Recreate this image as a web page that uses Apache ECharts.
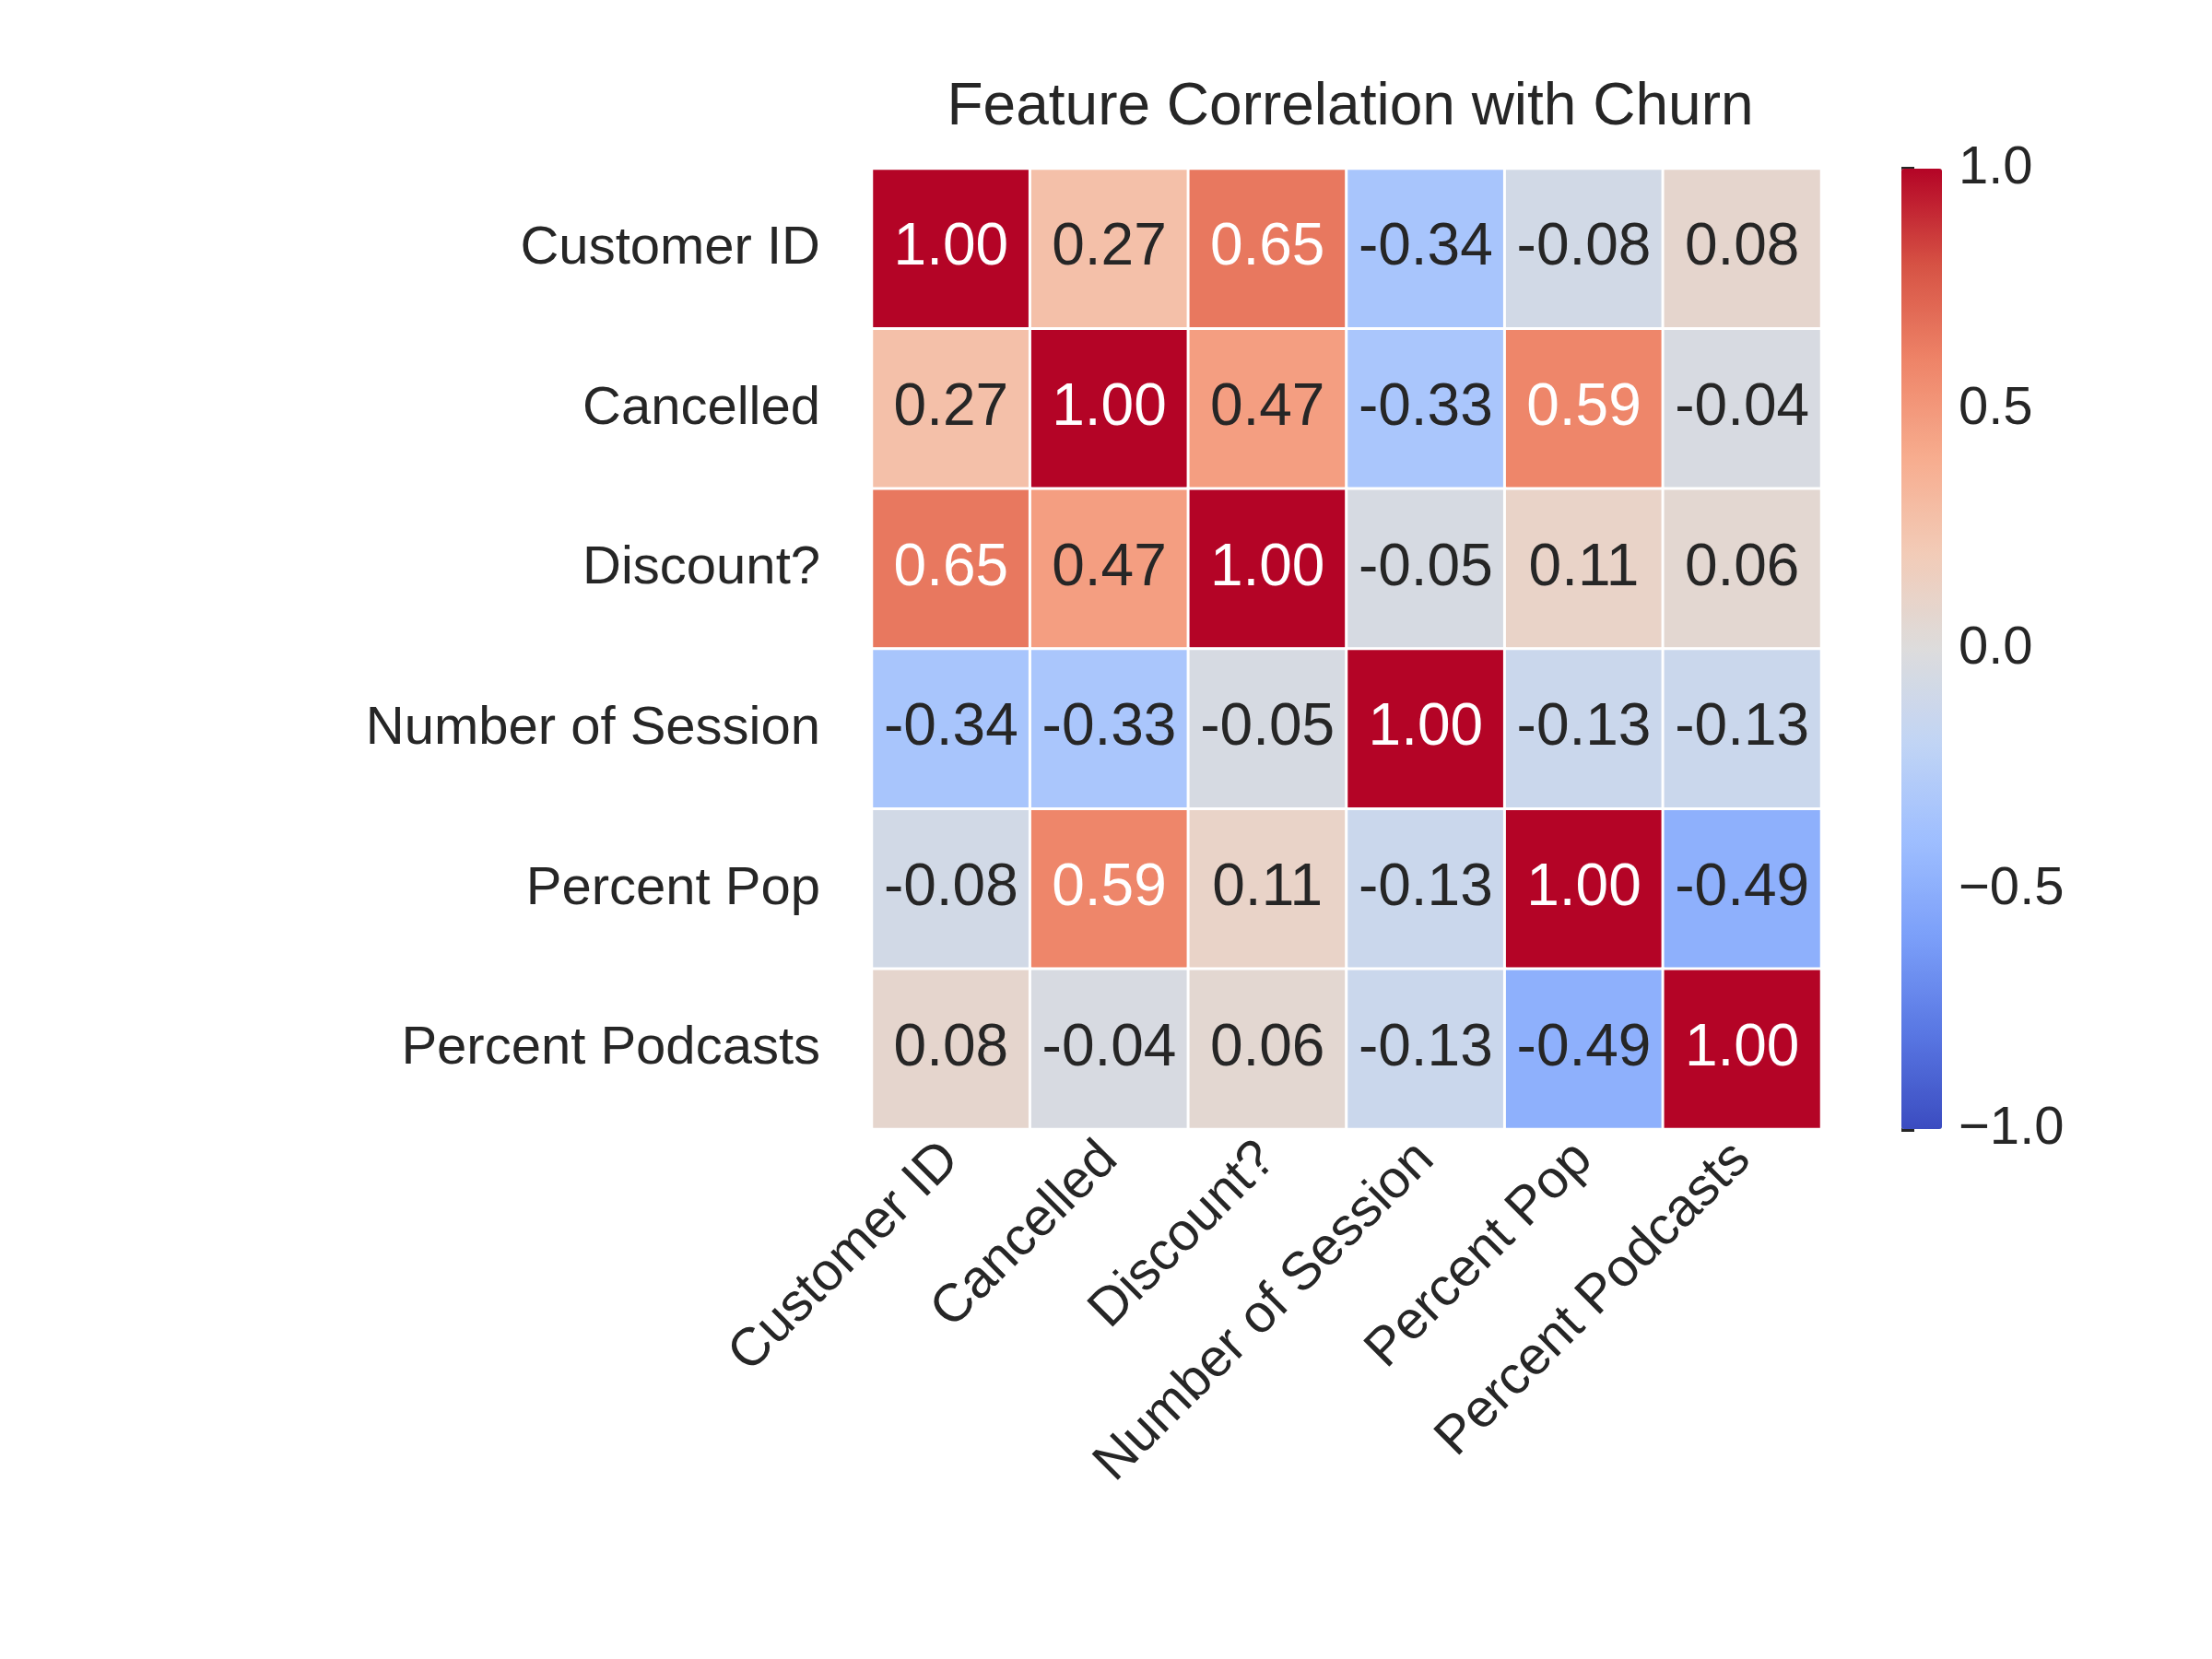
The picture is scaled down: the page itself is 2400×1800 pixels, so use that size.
<!DOCTYPE html>
<html><head><meta charset="utf-8">
<script src="https://cdn.jsdelivr.net/npm/echarts@6/dist/echarts.min.js"></script>
<style>html,body{margin:0;background:#fff}#main{width:2400px;height:1800px}</style>
</head><body><div id="main"></div>
<script>
var features = ['Customer ID', 'Cancelled', 'Discount?', 'Number of Session', 'Percent Pop', 'Percent Podcasts'];
var corr = [
  [1.00, 0.27, 0.65, -0.34, -0.08, 0.08],
  [0.27, 1.00, 0.47, -0.33, 0.59, -0.04],
  [0.65, 0.47, 1.00, -0.05, 0.11, 0.06],
  [-0.34, -0.33, -0.05, 1.00, -0.13, -0.13],
  [-0.08, 0.59, 0.11, -0.13, 1.00, -0.49],
  [0.08, -0.04, 0.06, -0.13, -0.49, 1.00]
];
var coolwarm = ['#3b4cc0','#5977e3','#7b9ff9','#9ebeff','#c0d4f5','#dddcdc','#f2cbb7','#f7ac8e','#ee8468','#d65244','#b40426'];

var data = [];
corr.forEach(function (row, i) {
  row.forEach(function (v, j) {
    data.push({value: [j, i, v], label: {color: Math.abs(v) > 0.55 ? '#ffffff' : '#262626'}});
  });
});
var font = 'Arial, "Liberation Sans", sans-serif';
var chart = echarts.init(document.getElementById('main'));
chart.setOption({
  animation: false,
  title: {text: 'Feature Correlation with Churn', left: 1460, top: 80, textAlign: 'center',
    textStyle: {fontFamily: font, fontSize: 64, fontWeight: 'normal', color: '#262626'}},
  grid: [
    {left: 946, top: 183, width: 1030, height: 1042},
    {left: 2063, top: 183, width: 44, height: 1042}
  ],
  xAxis: [
    {type: 'category', data: features, gridIndex: 0, axisLine: {show: false}, axisTick: {show: false},
      axisLabel: {rotate: 45, fontSize: 58, color: '#262626', fontFamily: font, margin: 24}},
    {type: 'value', gridIndex: 1, show: false, min: 0, max: 1}
  ],
  yAxis: [
    {type: 'category', data: features, inverse: true, gridIndex: 0, axisLine: {show: false}, axisTick: {show: false},
      axisLabel: {fontSize: 58, color: '#262626', fontFamily: font, margin: 56}},
    {type: 'value', gridIndex: 1, position: 'right', min: -1, max: 1, interval: 0.5,
      axisLine: {show: false}, splitLine: {show: false},
      axisTick: {show: true, inside: false, length: 14, lineStyle: {color: '#262626', width: 5}},
      axisLabel: {fontSize: 58, color: '#262626', fontFamily: font, margin: 18,
        formatter: function (v) { return (v < 0 ? '\u2212' : '') + Math.abs(v).toFixed(1); }}}
  ],
  visualMap: [{
    min: -1, max: 1, show: true, calculable: false, seriesIndex: 0, padding: 0,
    left: 2063, top: 183, itemWidth: 44, itemHeight: 1042, text: null, showLabel: false,
    inRange: {color: coolwarm}
  }],
  series: [{
    type: 'heatmap', data: data, xAxisIndex: 0, yAxisIndex: 0,
    itemStyle: {borderColor: '#fff', borderWidth: 3},
    label: {show: true, fontSize: 64, fontFamily: font,
      formatter: function (p) { return p.value[2].toFixed(2); }},
    emphasis: {disabled: true}
  }, {
    type: 'scatter', xAxisIndex: 1, yAxisIndex: 1, data: [], silent: true
  }]
});
</script></body></html>
